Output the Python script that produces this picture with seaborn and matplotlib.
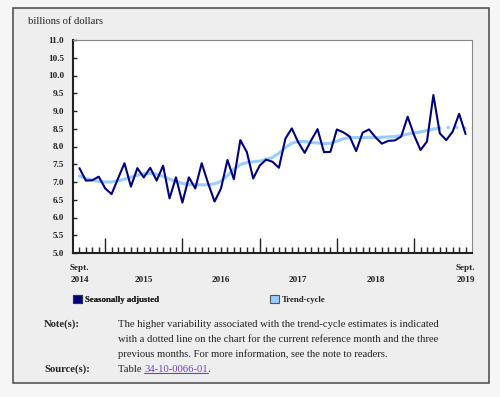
import matplotlib

matplotlib.use("Agg")
import matplotlib.pyplot as plt
import seaborn as sns
from matplotlib.lines import Line2D
from matplotlib.patches import Patch, Rectangle
from matplotlib.ticker import FixedLocator, FormatStrFormatter

# monthly values, Sept. 2014 .. Sept. 2019 (billions of dollars)
seasonally_adjusted = [
    7.39, 7.04, 7.05, 7.15, 6.82, 6.66, 7.10, 7.53, 6.87, 7.39, 7.13, 7.40,
    7.04, 7.46, 6.54, 7.13, 6.42, 7.13, 6.82, 7.53, 6.96, 6.45, 6.82, 7.62,
    7.08, 8.18, 7.85, 7.10, 7.46, 7.63, 7.57, 7.40, 8.22, 8.51, 8.12, 7.82,
    8.17, 8.49, 7.84, 7.85, 8.48, 8.40, 8.28, 7.87, 8.39, 8.48, 8.26, 8.08,
    8.16, 8.17, 8.28, 8.84, 8.32, 7.90, 8.14, 9.45, 8.37, 8.18, 8.42, 8.92,
    8.35,
]
trend_cycle = [
    7.17, 7.10, 7.05, 7.02, 7.00, 7.00, 7.03, 7.08, 7.14, 7.19, 7.23, 7.24,
    7.22, 7.16, 7.08, 7.01, 6.96, 6.93, 6.92, 6.92, 6.92, 6.95, 7.02, 7.18,
    7.36, 7.49, 7.55, 7.57, 7.59, 7.64, 7.69, 7.81, 7.97, 8.09, 8.14, 8.14,
    8.11, 8.10, 8.08, 8.09, 8.15, 8.22, 8.25, 8.25, 8.25, 8.25, 8.25, 8.26,
    8.27, 8.28, 8.31, 8.35, 8.38, 8.41, 8.45, 8.49, 8.52, 8.53, 8.54, 8.54,
    8.52,
]
months = list(range(len(seasonally_adjusted)))
first_dotted = 56  # current reference month and the three previous months
january_idx = [4, 16, 28, 40, 52]
year_labels = ["2014", "2015", "2016", "2017", "2018", "2019"]
year_label_idx = [0, 10, 22, 34, 46, 60]
sept_idx = [0, 60]

SA_COLOR = "#000080"
TC_COLOR = "#99ccff"
TEXT = "#222222"
SERIF = ["Liberation Serif", "DejaVu Serif"]
TICK_FS = 6.6
NOTE_FS = 7.7

sns.set_theme(style="white")
plt.rcParams["font.family"] = SERIF
plt.rcParams["text.color"] = TEXT

W, H = 500, 397
fig = plt.figure(figsize=(W / 100, H / 100), dpi=100, facecolor="#f6f6f6")


def fx(px):
    return px / W


def fy(py):
    return 1 - py / H


# grey panel behind the chart
fig.add_artist(Rectangle((fx(13), fy(383)), fx(476), (383 - 8) / H,
                         transform=fig.transFigure, facecolor="#eeeeee",
                         edgecolor="#555555", linewidth=1.2, zorder=0))

ax = fig.add_axes([fx(73), fy(253), fx(472 - 73), (253 - 40) / H])
ax.set_facecolor("white")

sns.lineplot(x=months[:first_dotted + 1], y=trend_cycle[:first_dotted + 1],
             ax=ax, color=TC_COLOR, linewidth=2.2, zorder=2)
sns.lineplot(x=months[first_dotted:], y=trend_cycle[first_dotted:], ax=ax,
             color=TC_COLOR, linewidth=2.6, linestyle=(0, (0.01, 2.3)),
             dash_capstyle="round", zorder=2)
sns.lineplot(x=months, y=seasonally_adjusted, ax=ax, color=SA_COLOR,
             linewidth=1.5, zorder=3)

ax.set_xlim(-1, len(months))
ax.set_ylim(5, 11)
ax.set_xlabel("")
ax.set_ylabel("")

ax.yaxis.set_major_locator(FixedLocator([5 + 0.5 * k for k in range(13)]))
ax.yaxis.set_major_formatter(FormatStrFormatter("%.1f"))
ax.tick_params(axis="y", direction="in", length=3, width=1, color=TEXT,
               labelsize=TICK_FS, labelcolor=TEXT, pad=6.3, left=True)
for lab in ax.get_yticklabels():
    lab.set_fontweight("bold")

ax.xaxis.set_major_locator(FixedLocator(january_idx))
ax.xaxis.set_minor_locator(FixedLocator(months))
ax.tick_params(axis="x", which="major", direction="in", length=11, width=1,
               color=TEXT, labelbottom=False, bottom=True)
ax.tick_params(axis="x", which="minor", direction="in", length=4, width=1,
               color=TEXT, bottom=True)

for side in ("left", "bottom"):
    ax.spines[side].set_color(TEXT)
    ax.spines[side].set_linewidth(1.5)
for side in ("top", "right"):
    ax.spines[side].set_color("#888888")
    ax.spines[side].set_linewidth(0.8)

for i in sept_idx:
    ax.annotate("Sept.", xy=(i, 0), xycoords=("data", "axes fraction"),
                xytext=(0, -11), textcoords="offset points", ha="center",
                va="center", fontsize=TICK_FS, fontweight="bold")
for i, lab in zip(year_label_idx, year_labels):
    ax.annotate(lab, xy=(i, 0), xycoords=("data", "axes fraction"),
                xytext=(0, -19.2), textcoords="offset points", ha="center",
                va="center", fontsize=TICK_FS, fontweight="bold")

fig.text(fx(28), fy(21), "billions of dollars", fontsize=NOTE_FS, va="center",
         ha="left")

# legend
leg_kw = dict(frameon=False, loc="center left", borderpad=0, borderaxespad=0,
              handlelength=1.05, handleheight=1.05, handletextpad=0.35,
              prop={"size": 6.3, "weight": "bold", "family": SERIF})
leg1 = fig.legend([Patch(facecolor=SA_COLOR, edgecolor="#333333", linewidth=0.8)],
                  ["Seasonally adjusted"], bbox_to_anchor=(fx(72.5), fy(299.5)),
                  **leg_kw)
fig.add_artist(leg1)
fig.legend([Patch(facecolor=TC_COLOR, edgecolor="#555555", linewidth=0.8)],
           ["Trend-cycle"], bbox_to_anchor=(fx(269.5), fy(299.5)), **leg_kw)

# notes
note_lines = [
    "The higher variability associated with the trend-cycle estimates is indicated",
    "with a dotted line on the chart for the current reference month and the three",
    "previous months. For more information, see the note to readers.",
]
fig.text(fx(44), fy(324.5), "Note(s):", fontsize=NOTE_FS, fontweight="bold",
         va="center")
for k, line in enumerate(note_lines):
    fig.text(fx(118), fy(324.5 + 14.8 * k), line, fontsize=NOTE_FS, va="center")
fig.text(fx(44), fy(369), "Source(s):", fontsize=NOTE_FS, fontweight="bold",
         va="center")
t_table = fig.text(fx(118), fy(369), "Table ", fontsize=NOTE_FS, va="center")
t_link = fig.text(0, 0, "34-10-0066-01", fontsize=NOTE_FS, color="#6f42c1",
                  va="center")
t_dot = fig.text(0, 0, ".", fontsize=NOTE_FS, va="center")

fig.canvas.draw()
r = fig.canvas.get_renderer()
bb = t_table.get_window_extent(r)
t_link.set_position((bb.x1 / W, fy(369)))
fig.canvas.draw()
lb = t_link.get_window_extent(r)
t_dot.set_position((lb.x1 / W, fy(369)))
fig.add_artist(Line2D([lb.x0 / W, lb.x1 / W], [(lb.y0 + 0.5) / H] * 2,
                      transform=fig.transFigure, color="#6f42c1", linewidth=0.8))

fig.savefig("out.png", dpi=100, facecolor=fig.get_facecolor())
